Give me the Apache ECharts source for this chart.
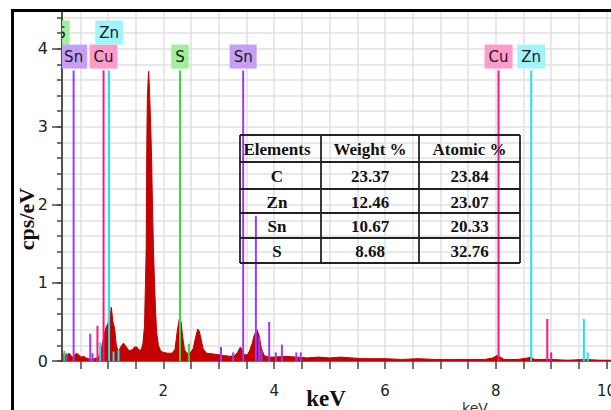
<!DOCTYPE html>
<html>
<head>
<meta charset="utf-8">
<script src="https://cdn.jsdelivr.net/npm/echarts@6/dist/echarts.min.js"></script>
<style>
html,body{margin:0;padding:0;background:#fff;}
#chart{width:611px;height:410px;}
</style>
</head>
<body>
<div id="chart"></div>
<script>
// ---- spectrum (keV, cps/eV) ----
const spectrumEnergy = [0.18,0.21,0.24,0.27,0.30,0.33,0.36,0.40,0.44,0.48,0.52,0.56,0.60,0.65,0.70,0.75,0.80,0.84,0.88,0.92,0.96,1.00,1.03,1.06,1.09,1.12,1.15,1.19,1.23,1.28,1.33,1.38,1.43,1.48,1.52,1.56,1.60,1.63,1.66,1.67,1.68,1.69,1.70,1.71,1.725,1.735,1.75,1.765,1.78,1.79,1.80,1.82,1.84,1.86,1.88,1.91,1.95,2.00,2.08,2.16,2.21,2.25,2.29,2.32,2.35,2.38,2.42,2.48,2.54,2.58,2.62,2.65,2.68,2.72,2.78,2.90,3.00,3.10,3.20,3.28,3.34,3.39,3.42,3.46,3.52,3.56,3.60,3.64,3.69,3.73,3.77,3.82,3.90,4.00,4.20,4.40,4.60,4.80,5.00,5.20,5.40,5.60,5.80,6.00,6.30,6.60,6.90,7.20,7.50,7.80,7.95,8.02,8.08,8.15,8.40,8.58,8.63,8.70,9.00,9.30,9.60,9.90,10.08];
const spectrumCps = [0.07,0.09,0.06,0.08,0.10,0.07,0.05,0.08,0.10,0.07,0.05,0.06,0.04,0.03,0.02,0.03,0.04,0.06,0.15,0.30,0.42,0.48,0.55,0.69,0.50,0.42,0.20,0.12,0.18,0.23,0.18,0.13,0.14,0.18,0.18,0.14,0.14,0.22,0.45,0.80,1.10,1.45,2.70,3.35,3.60,3.71,3.45,3.15,2.80,2.50,2.10,1.45,1.00,0.62,0.36,0.20,0.13,0.11,0.10,0.10,0.15,0.38,0.55,0.50,0.30,0.15,0.10,0.10,0.16,0.30,0.41,0.38,0.28,0.15,0.10,0.09,0.08,0.07,0.06,0.07,0.11,0.18,0.14,0.08,0.08,0.14,0.22,0.33,0.40,0.32,0.16,0.07,0.05,0.05,0.06,0.05,0.04,0.05,0.04,0.05,0.04,0.03,0.03,0.03,0.02,0.03,0.02,0.02,0.02,0.02,0.04,0.07,0.05,0.02,0.02,0.04,0.05,0.02,0.02,0.01,0.02,0.01,0.01];

// ---- element marker lines ----
const elementNames = ['Sn','Cu','Zn','S'];
const markerEnergy  = [0.15,0.38,0.92,1.02,2.30,3.44,8.05,8.64, 0.21,0.25,0.68,0.72,0.81,0.86,1.10,1.19,2.46,3.04,3.26,3.67,3.73,3.77,3.91,4.03,4.14,4.40,4.48,8.93,9.00,9.59,9.66];
const markerHeight  = [3.72,3.72,3.72,3.72,3.72,3.72,3.72,3.72, 0.13,0.10,0.35,0.10,0.45,0.24,0.12,0.14,0.22,0.18,0.11,1.86,0.31,0.14,0.50,0.11,0.21,0.11,0.11,0.54,0.11,0.54,0.11];
const markerElement = [3,0,1,2,3,0,1,2, 3,0,0,0,1,2,2,2,3,0,0,0,0,0,0,0,0,0,0,1,1,2,2];
const markerLabelRow = [1,0,0,1,0,0,0,0, -1,-1,-1,-1,-1,-1,-1,-1,-1,-1,-1,-1,-1,-1,-1,-1,-1,-1,-1,-1,-1,-1,-1];

// ---- axes ----
const xTickValues = [0.5,1,1.5,2,2.5,3,3.5,4,4.5,5,5.5,6,6.5,7,7.5,8,8.5,9,9.5,10];
const xLabelValues = [2,4,6,8,10];
const yTickValues = [0,0.2,0.4,0.6,0.8,1,1.2,1.4,1.6,1.8,2,2.2,2.4,2.6,2.8,3,3.2,3.4,3.6,3.8,4,4.2,4.4];
const yLabelValues = [0,1,2,3,4];

// ---- composition table ----
const tableHeader = ['Elements','Weight %','Atomic %'];
const tableElements = ['C','Zn','Sn','S'];
const tableWeight = ['23.37','12.46','10.67','8.68'];
const tableAtomic = ['23.84','23.07','20.33','32.76'];

// styles
const lineColors = ['#9b3cf5','#f7197f','#20e3ec','#3ad83a'];
const boxColors  = ['#c69ef7','#ff9bc9','#a2f4fb','#a0ef9a'];
const sansFont = "'DejaVu Sans', sans-serif";
const serifFont = "'Liberation Serif', 'DejaVu Serif', serif";

const spectrumData = spectrumEnergy.map((e, i) => [e, spectrumCps[i]]);
const markerData = markerEnergy.map((e, i) => [e, markerHeight[i], markerElement[i], markerLabelRow[i]]);

function renderMarker(params, api) {
  const e = api.value(0), h = api.value(1), el = api.value(2), row = api.value(3);
  const base = api.coord([e, 0]);
  const top = api.coord([e, h]);
  const children = [{
    type: 'line',
    shape: {x1: base[0], y1: base[1], x2: top[0], y2: top[1]},
    style: {stroke: lineColors[el], lineWidth: 2}
  }];
  if (row >= 0) {
    const bottom = top[1] - 2 - row * 24;
    children.push({
      type: 'text',
      x: top[0], y: bottom,
      style: {
        text: elementNames[el],
        fill: '#1a1a1a',
        font: '15px ' + sansFont,
        lineHeight: 15,
        backgroundColor: boxColors[el],
        padding: [5, 4, 4, 4],
        align: 'center',
        verticalAlign: 'bottom'
      }
    });
  }
  return {type: 'group', children: children};
}

// table graphics
const colX = [240, 321, 419, 520];
const rowY = [135, 162, 189, 213, 238, 263];
const colCenter = [277, 370, 469.5];
const tableGraphics = [];
for (let i = 0; i < colX.length; i++) {
  tableGraphics.push({type:'line', shape:{x1:colX[i], y1:rowY[0], x2:colX[i], y2:rowY[rowY.length-1]}, style:{stroke:'#222', lineWidth:1.8}, z:100});
}
for (let j = 0; j < rowY.length; j++) {
  tableGraphics.push({type:'line', shape:{x1:colX[0], y1:rowY[j], x2:colX[colX.length-1], y2:rowY[j]}, style:{stroke:'#222', lineWidth:1.8}, z:100});
}
const tableRows = [tableHeader].concat(tableElements.map((el, i) => [el, tableWeight[i], tableAtomic[i]]));
tableRows.forEach((r, j) => {
  r.forEach((txt, i) => {
    tableGraphics.push({
      type:'text', x: colCenter[i], y: (rowY[j] + rowY[j+1]) / 2 + 1, z: 101,
      style:{text: txt, fill:'#111', font:'bold 17px ' + serifFont, align:'center', verticalAlign:'middle'}
    });
  });
});

const chart = echarts.init(document.getElementById('chart'), null, {renderer: 'svg'});
chart.setOption({
  animation: false,
  backgroundColor: '#fff',
  grid: {left: 62, right: 0, top: 12, bottom: 49, outerBoundsMode: 'none', containLabel: false},
  xAxis: {
    type: 'value', min: 0.17, max: 10.08,
    axisLine: {show: true, onZero: false, lineStyle: {color: '#444', width: 1.5}},
    axisTick: {show: true, customValues: xTickValues, length: 8, lineStyle: {color: '#444', width: 1.5}},
    axisLabel: {customValues: xLabelValues, margin: 22, fontSize: 15, color: '#222', fontFamily: sansFont},
    splitLine: {show: true, lineStyle: {color: '#e0e0e0', width: 1.5}}
  },
  yAxis: [{
    type: 'value', min: 0, max: 4.47, interval: 0.2,
    axisLine: {show: true, onZero: false, lineStyle: {color: '#444', width: 1.5}},
    axisTick: {show: true, customValues: yTickValues, length: 5, lineStyle: {color: '#444', width: 1.5}},
    axisLabel: {show: false},
    splitLine: {show: true, lineStyle: {color: '#e0e0e0', width: 1.5}}
  }, {
    type: 'value', min: 0, max: 4.47, position: 'left',
    axisLine: {show: true, onZero: false, lineStyle: {color: '#444', width: 1.5}},
    axisTick: {show: true, customValues: yLabelValues, length: 10, lineStyle: {color: '#444', width: 1.5}},
    axisLabel: {customValues: yLabelValues, margin: 14, fontSize: 16, color: '#222', fontFamily: sansFont},
    splitLine: {show: false}
  }],
  series: [{
    type: 'line',
    data: spectrumData,
    showSymbol: false,
    symbol: 'none',
    lineStyle: {color: '#c00000', width: 1},
    areaStyle: {color: '#c40000', opacity: 1},
    z: 2
  }, {
    type: 'custom',
    data: markerData,
    renderItem: renderMarker,
    clip: true,
    z: 3
  }],
  graphic: [
    {type:'line', shape:{x1:11, y1:10.5, x2:611, y2:10.5}, style:{stroke:'#000', lineWidth:3}, z:100},
    {type:'line', shape:{x1:12.5, y1:9, x2:12.5, y2:410}, style:{stroke:'#000', lineWidth:3}, z:100},
    {type:'text', x:26, y:219, rotation: Math.PI/2, z:100,
     style:{text:'cps/eV', fill:'#111', font:'bold 22px ' + serifFont, align:'center', verticalAlign:'middle'}},
    {type:'text', x:326, y:398, z:100,
     style:{text:'keV', fill:'#111', font:'bold 23px ' + serifFont, align:'center', verticalAlign:'middle'}},
    {type:'text', x:475, y:401, z:100,
     style:{text:'keV', fill:'#333', font:'14px ' + sansFont, align:'center', verticalAlign:'top'}}
  ].concat(tableGraphics)
});
</script>
</body>
</html>
